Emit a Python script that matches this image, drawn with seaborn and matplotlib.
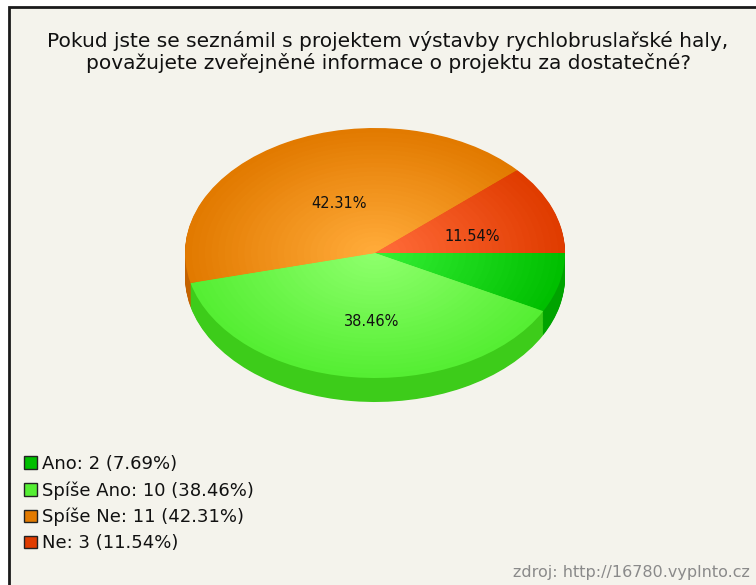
import matplotlib
matplotlib.use('Agg')
import matplotlib.pyplot as plt
from matplotlib.patches import Patch, Rectangle
import seaborn as sns

# data
labels = ["Ano", "Spíše Ano", "Spíše Ne", "Ne"]
counts = [2, 10, 11, 3]
title = ("Pokud jste se seznámil s projektem výstavby rychlobruslařské haly,\n"
         "považujete zveřejněné informace o projektu za dostatečné?")
source = "zdroj: http://16780.vyplnto.cz"

# barvy: okraj horni plochy, stred horni plochy, bok
edge_colors = ["#00bf00", "#55ee33", "#e27a00", "#e03c00"]
center_colors = ["#33ee33", "#8cff6a", "#ffaa38", "#ff6a38"]
side_colors = ["#00a300", "#3dcc1a", "#c46200", "#b83000"]

sns.set_style("white")
plt.rcParams['font.family'] = ['DejaVu Sans']

W, H = 756, 585
fig = plt.figure(figsize=(W / 100, H / 100), dpi=100)
fig.patch.set_facecolor("white")

# ramecek
fig.patches.append(Rectangle((9 / W, -0.1), 1.2, (H - 7) / H + 0.1, transform=fig.transFigure,
                             facecolor="#f4f3ec", edgecolor="#1a1a1a", lw=2, zorder=-5))

# geometrie kolace (v pixelech)
cx, cy, rx, ry, depth = 375, 253, 190, 125, 24
d = depth / ry
ax = fig.add_axes([(cx - rx) / W, (H - (cy + ry + depth)) / H, 2 * rx / W, (2 * ry + depth) / H])
ax.set_facecolor("none")

total = sum(counts)

# bok (vrstvy pod sebou)
n_side = 30
for i in range(n_side):
    off = -d + d * i / n_side
    ax.pie(counts, colors=side_colors, startangle=0, counterclock=False,
           center=(0, off), radius=1, wedgeprops=dict(linewidth=0, antialiased=True))

# horni plocha s radialnim prechodem
n_top = 28
grads = [sns.blend_palette([e, c], n_top) for e, c in zip(edge_colors, center_colors)]
pct_texts = []
for i in range(n_top):
    r = 1 - 0.97 * i / n_top
    cols = [g[i] for g in grads]
    kw = {}
    if i == 0:
        kw = dict(autopct=lambda p: f"{p:.2f}%" if p > 10 else "", pctdistance=0.5,
                  textprops=dict(fontsize=10.5, color="#111111"))
    res = ax.pie(counts, colors=cols, startangle=0, counterclock=False, center=(0, 0),
                 radius=r, wedgeprops=dict(linewidth=0, antialiased=True), **kw)
    if i == 0:
        pct_texts = res[2]

# popisky trochu posunout jako v originale
for t in pct_texts:
    x, y = t.get_position()
    t.set_position((x + 0.042, y - 0.048))

ax.set_aspect('auto')
ax.set_xlim(-1, 1)
ax.set_ylim(-1 - d, 1)
ax.axis('off')

fig.text(388 / W, (H - 52) / H, title, ha='center', va='center', fontsize=14.5,
         linespacing=1.1, color="#111111")

handles = [Patch(facecolor=c, edgecolor="#222222", lw=1) for c in edge_colors]
leg_labels = [f"{l}: {c} ({100 * c / total:.2f}%)" for l, c in zip(labels, counts)]
fig.legend(handles, leg_labels, loc='upper left', bbox_to_anchor=(24 / W, (H - 455) / H),
           frameon=False, fontsize=13, handlelength=0.7, handleheight=0.7,
           handletextpad=0.3, labelspacing=0.45, borderaxespad=0, borderpad=0,
           labelcolor="#111111")

fig.text(750 / W, (H - 573) / H, source, ha='right', va='center', fontsize=11.5,
         color="#8a8a8a")

fig.savefig("out.png", dpi=100, facecolor=fig.get_facecolor())
